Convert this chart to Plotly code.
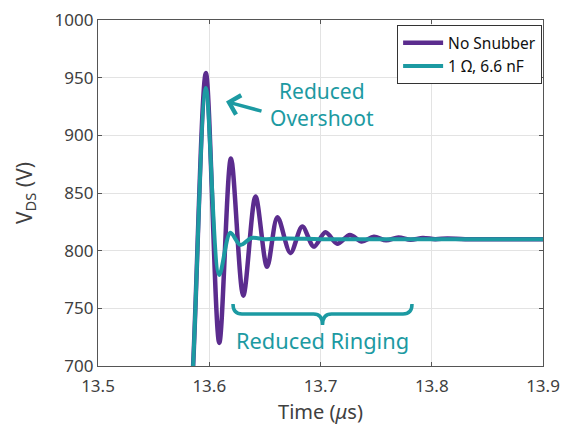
import plotly.graph_objects as go

# ---- data (time in microseconds, VDS in volts) ----
t_nosnub = [13.575, 13.5855, 13.597, 13.609, 13.6195, 13.6306, 13.6416, 13.652, 13.6613, 13.673,
            13.6836, 13.694, 13.7045, 13.715, 13.7264, 13.737, 13.748, 13.759, 13.770,
            13.781, 13.792, 13.803, 13.814, 13.83, 13.9]
v_nosnub = [500, 700, 954, 720, 880, 761, 847, 786, 829, 798,
            821, 803.5, 816, 806, 813.6, 808, 812, 809, 811.5,
            809.5, 811, 810, 810.5, 810, 810]

t_snub = [13.575, 13.5855, 13.597, 13.609, 13.619, 13.628, 13.638, 13.65, 13.67, 13.7, 13.75, 13.8, 13.9]
v_snub = [500, 700, 941, 779, 815.5, 805, 811, 810, 810.5, 810, 810, 810, 810]

x_ticks = [13.5, 13.6, 13.7, 13.8, 13.9]
y_ticks = [700, 750, 800, 850, 900, 950, 1000]

PURPLE = "#5B2C8E"
TEAL = "#1C9AA2"
FONT = "Noto Sans"

W, H = 561, 428
L, R, T, B = 98, 18, 20, 62
X0, X1 = 13.5, 13.9
Y0, Y1 = 700, 1000


def px2x(px):
    return X0 + (px - L) / (W - L - R) * (X1 - X0)


def py2y(py):
    return Y1 - (py - T) / (H - T - B) * (Y1 - Y0)


fig = go.Figure()
fig.add_trace(go.Scatter(x=t_nosnub, y=v_nosnub, mode="lines", name="No Snubber",
                         line=dict(color=PURPLE, width=4.5, shape="spline", smoothing=0.9)))
fig.add_trace(go.Scatter(x=t_snub, y=v_snub, mode="lines", name="1 Ω, 6.6 nF",
                         line=dict(color=TEAL, width=4, shape="spline", smoothing=0.9)))

# brace for "Reduced Ringing"
bx0, bx1, bxc = 233, 412, 322.5
by_end, by_line, by_tip = 304, 314, 325
r = 9
path = (f"M{px2x(bx0)},{py2y(by_end)} Q{px2x(bx0)},{py2y(by_line)} {px2x(bx0 + r)},{py2y(by_line)} "
        f"L{px2x(bxc - r)},{py2y(by_line)} Q{px2x(bxc)},{py2y(by_line)} {px2x(bxc)},{py2y(by_tip)} "
        f"Q{px2x(bxc)},{py2y(by_line)} {px2x(bxc + r)},{py2y(by_line)} "
        f"L{px2x(bx1 - r)},{py2y(by_line)} Q{px2x(bx1)},{py2y(by_line)} {px2x(bx1)},{py2y(by_end)}")
fig.add_shape(type="path", path=path, xref="x", yref="y",
              line=dict(color=TEAL, width=3.5))

# arrow for overshoot
fig.add_annotation(x=px2x(226), y=py2y(101.5), ax=37, ay=10, axref="pixel", ayref="pixel",
                   showarrow=True, arrowhead=4, arrowsize=1.1, arrowwidth=3.5,
                   arrowcolor=TEAL, text="", standoff=0)

fig.add_annotation(x=px2x(322), y=py2y(104), text="Reduced<br>Overshoot", showarrow=False,
                   font=dict(family=FONT, size=21, color=TEAL), align="center")
fig.add_annotation(x=px2x(322.5), y=py2y(340), text="Reduced Ringing", showarrow=False,
                   font=dict(family=FONT, size=21.8, color=TEAL), align="center")

axis_common = dict(showline=True, linecolor="#555555", linewidth=1.2, mirror="ticks",
                   ticks="inside", ticklen=4, tickcolor="#555555", showgrid=True,
                   gridcolor="#e3e3e3", gridwidth=1, zeroline=False,
                   ticklabeloverflow="allow",
                   tickfont=dict(family=FONT, size=17, color="#404040"))

fig.update_layout(
    width=W, height=H, margin=dict(l=L, r=R, t=T, b=B, autoexpand=False),
    plot_bgcolor="white", paper_bgcolor="white",
    font=dict(family=FONT, color="#404040"),
    showlegend=True,
    legend=dict(x=0.998, y=0.985, xanchor="right", yanchor="top",
                bgcolor="white", bordercolor="#333333", borderwidth=1,
                font=dict(family=FONT, size=15.5, color="#111111"),
                tracegroupgap=0, itemwidth=40),
    xaxis=dict(range=[X0, X1], tickvals=x_ticks, ticktext=[f"{v:.1f}" for v in x_ticks],
               ticklabelstandoff=4,
               title=dict(text="Time (<i>μ</i>s)", font=dict(family=FONT, size=20, color="#404040"), standoff=9),
               **axis_common),
    yaxis=dict(range=[Y0, Y1], tickvals=y_ticks, ticktext=[str(v) for v in y_ticks],
               title=dict(text="V<sub>DS</sub> (V)", font=dict(family=FONT, size=21, color="#404040"), standoff=16),
               **axis_common),
)

fig.write_html("out.html", config={"displayModeBar": False},
               post_script="document.body.style.margin='0';document.body.style.padding='0';")
